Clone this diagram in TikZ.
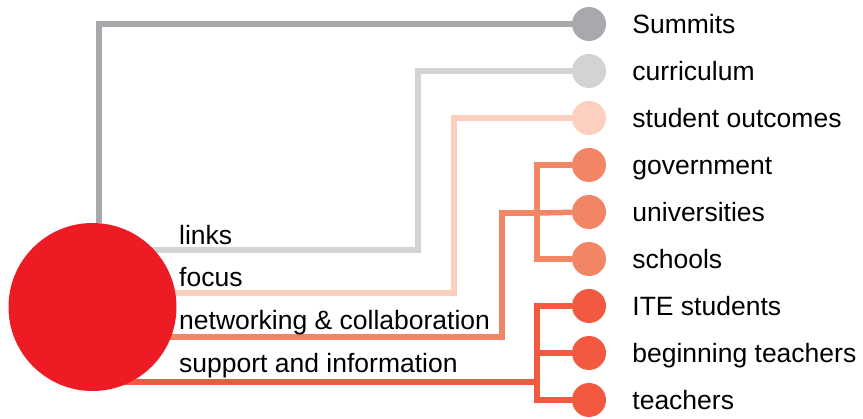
\documentclass[tikz,border=0pt]{standalone}
\usepackage{fontspec}
\setmainfont{Liberation Sans}
\usetikzlibrary{positioning,backgrounds}
\definecolor{hubred}{HTML}{ED1C24}
\definecolor{dkgray}{HTML}{A7A9AC}
\definecolor{ltgray}{HTML}{D1D3D4}
\definecolor{peach}{HTML}{FCCFBE}
\definecolor{salmon}{HTML}{F28563}
\definecolor{redorange}{HTML}{F15A40}

\begin{document}
\begin{tikzpicture}[x=1pt,y=-1pt,node distance=47pt]
\tikzstyle{dot}=[circle, minimum size=34pt, inner sep=0pt]
\tikzstyle{dotdg}=[dot, fill=dkgray]
\tikzstyle{dotlg}=[dot, fill=ltgray]
\tikzstyle{dotpe}=[dot, fill=peach]
\tikzstyle{dotsa}=[dot, fill=salmon]
\tikzstyle{dotro}=[dot, fill=redorange]
\tikzstyle{txt}=[inner sep=0pt, text height=19pt, text depth=0pt, font=\fontsize{26.5}{31}\selectfont]
\tikzstyle{lab}=[txt, anchor=base west]
\tikzstyle{wire}=[line width=5.5pt]
\useasboundingbox (0,0) rectangle (863,419);
\node (hub) [circle, minimum size=168pt, inner sep=0pt, fill=hubred] at (92.5,307) {};
% right column
\node (summits) [dotdg] at (589,24) {};
\node (curr) [dotlg, below of=summits] {};
\node (outc) [dotpe, below of=curr] {};
\node (gov) [dotsa, below of=outc] {};
\node (uni) [dotsa, below of=gov] {};
\node (sch) [dotsa, below of=uni] {};
\node (ite) [dotro, below of=sch] {};
\node (beg) [dotro, below of=ite] {};
\node (teach) [dotro, below of=beg] {};
\node (tsummits) [txt, right=26pt of summits] {Summits};
\node (tcurr) [txt, right=26pt of curr] {curriculum};
\node (toutc) [txt, right=26pt of outc] {student outcomes};
\node (tgov) [txt, right=26pt of gov] {government};
\node (tuni) [txt, right=26pt of uni] {universities};
\node (tsch) [txt, right=26pt of sch] {schools};
\node (tite) [txt, right=26pt of ite] {ITE students};
\node (tbeg) [txt, right=26pt of beg] {beginning teachers};
\node (tteach) [txt, right=26pt of teach] {teachers};
% bends
\coordinate (bl) at (418,250);
\coordinate (bf) at (454,293);
\coordinate (bn) at (502,337);
\coordinate (jn) at (537,213);
\coordinate (js) at (537,382);
\node (llinks) [lab] at (179,245) {links};
\node (lfocus) [lab] at (179,287) {focus};
\node (lnet) [lab] at (179,330) {networking \& collaboration};
\node (lsup) [lab] at (179,373) {support and information};
\begin{scope}[on background layer]
\draw [wire, dkgray] ([xshift=6.5pt]hub.north) |- (summits);
\draw [wire, ltgray] (hub.center |- bl) -- (bl) |- (curr);
\draw [wire, peach] (hub.center |- bf) -- (bf) |- (outc);
\draw [wire, salmon] (hub.center |- bn) -- (bn) |- (jn);
\draw [wire, salmon] (gov) -| (jn) |- (sch);
\draw [wire, salmon] (jn) -- (uni);
\draw [wire, redorange] (hub.center |- js) -- (js);
\draw [wire, redorange] (ite) -| (js) |- (teach);
\draw [wire, redorange] (js |- beg) -- (beg);
\end{scope}
\end{tikzpicture}
\end{document}
